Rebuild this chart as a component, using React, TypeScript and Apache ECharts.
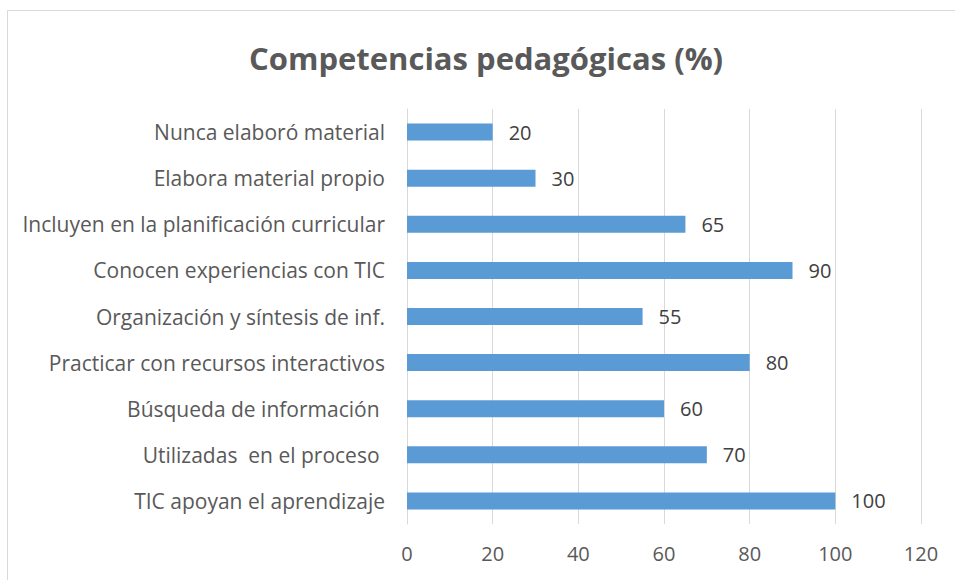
import React, { useEffect, useRef } from "react";
import * as echarts from "echarts";

const categories = [
  "TIC apoyan el aprendizaje",
  "Utilizadas  en el proceso ",
  "Búsqueda de información ",
  "Practicar con recursos interactivos",
  "Organización y síntesis de inf.",
  "Conocen experiencias con TIC",
  "Incluyen en la planificación curricular",
  "Elabora material propio",
  "Nunca elaboró material",
];
const values = [100, 70, 60, 80, 55, 90, 65, 30, 20];
const xTicks = { min: 0, max: 120, interval: 20 };
const title = "Competencias pedagógicas (%)";

export default function App() {
  const ref = useRef<HTMLDivElement>(null);
  useEffect(() => {
    const chart = echarts.init(ref.current!, null, { renderer: "svg" });
    const font = "'Open Sans', sans-serif";
    chart.setOption({
      animation: false,
      backgroundColor: "#ffffff",
      title: {
        text: title,
        left: 244,
        top: 37,
        textStyle: { fontFamily: font, fontSize: 31, fontWeight: "bold", color: "#595959" },
      },
      graphic: [
        {
          type: "rect",
          shape: { x: 7.5, y: 10.5, width: 960, height: 600 },
          style: { fill: "none", stroke: "#d9d9d9", lineWidth: 1 },
          silent: true,
        },
      ],
      grid: { left: 407, right: 34, top: 109, bottom: 56, containLabel: false },
      xAxis: {
        type: "value",
        min: xTicks.min,
        max: xTicks.max,
        interval: xTicks.interval,
        axisLine: { show: false },
        axisTick: { show: false },
        splitLine: { show: true, lineStyle: { color: "#d9d9d9", width: 1 } },
        axisLabel: { fontFamily: font, fontSize: 20, color: "#595959", margin: 19 },
      },
      yAxis: {
        type: "category",
        data: categories,
        axisLine: { show: true, lineStyle: { color: "#d9d9d9" } },
        axisTick: { show: false },
        axisLabel: { fontFamily: font, fontSize: 21, color: "#595959", margin: 22 },
      },
      series: [
        {
          type: "bar",
          data: values,
          barWidth: 17,
          itemStyle: { color: "#5b9bd5" },
          label: {
            show: true,
            position: "right",
            distance: 16,
            fontFamily: font,
            fontSize: 20,
            color: "#404040",
          },
        },
      ],
    });
    return () => chart.dispose();
  }, []);
  return (
    <div
      ref={ref}
      style={{ position: "fixed", left: 0, top: 0, width: 955, height: 580 }}
    />
  );
}
